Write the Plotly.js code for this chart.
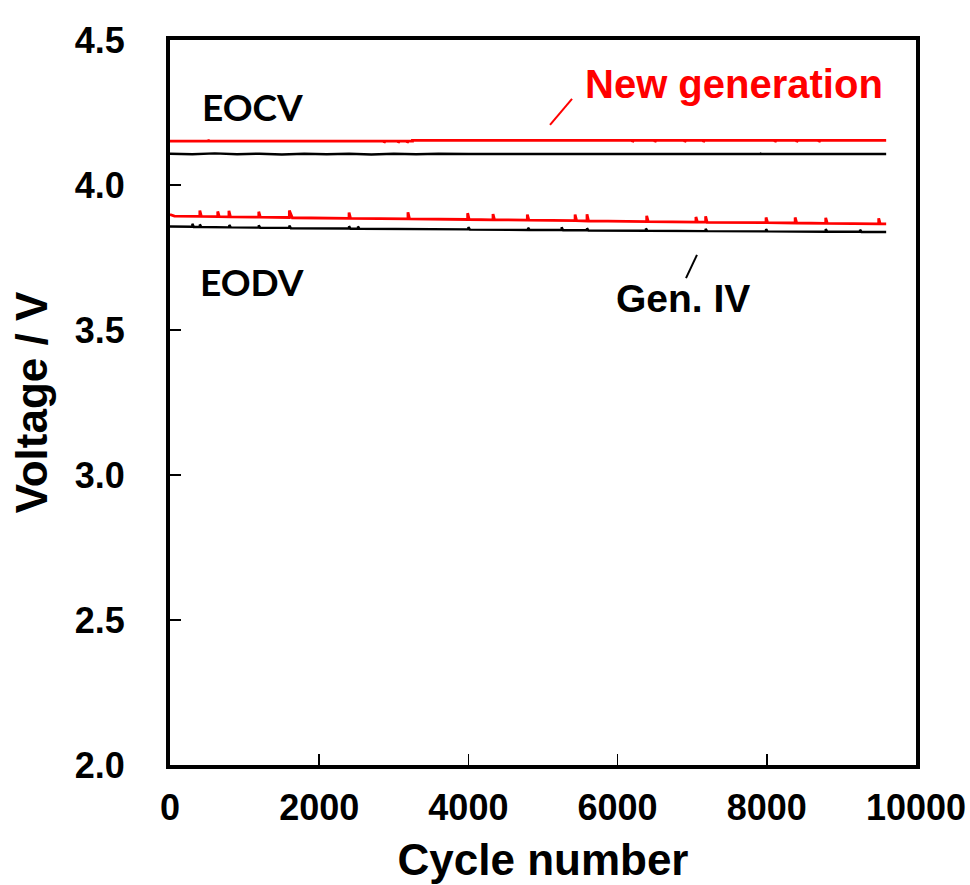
<!DOCTYPE html>
<html>
<head>
<meta charset="utf-8">
<script src="https://cdn.plot.ly/plotly-3.0.1.min.js"></script>
<style>html,body{margin:0;padding:0;background:#fff;}</style>
</head>
<body>
<div id="chart" style="width:970px;height:885px;"></div>
<script>
// ---- data ----
// New generation, end-of-charge voltage (EOCV)
const newEocvCycle = [0, 510, 510, 525, 2870, 2870, 2885, 3060, 3060, 3075, 3180, 3180, 3195, 3250, 3250, 6200, 6200, 6215, 6500, 6500, 6515, 6900, 6900, 6915, 7150, 7150, 7165, 8110, 8110, 8125, 8400, 8400, 8415, 8700, 8700, 8715, 9600];
const newEocvVolt  = [4.151, 4.151, 4.156, 4.151, 4.151, 4.146, 4.151, 4.151, 4.146, 4.151, 4.151, 4.146, 4.151, 4.151, 4.154, 4.154, 4.148, 4.154, 4.154, 4.148, 4.154, 4.154, 4.148, 4.154, 4.154, 4.148, 4.154, 4.154, 4.148, 4.154, 4.154, 4.148, 4.154, 4.154, 4.148, 4.154, 4.154];
// Gen. IV, end-of-charge voltage
const gen4EocvCycle = [0, 300, 600, 900, 1200, 1500, 1800, 2100, 2400, 2700, 3000, 3300, 3600, 4000, 7910, 7910, 7925, 9600];
const gen4EocvVolt  = [4.108, 4.106, 4.109, 4.106, 4.108, 4.105, 4.108, 4.106, 4.108, 4.105, 4.108, 4.106, 4.108, 4.107, 4.107, 4.110, 4.107, 4.107];
// New generation, end-of-discharge voltage (EODV)
const newEodvCycle = [0, 0, 60, 400, 400, 420, 640, 640, 660, 790, 790, 810, 1190, 1190, 1210, 1600, 1600, 1640, 2400, 2400, 2420, 3190, 3190, 3210, 3990, 3990, 4010, 4330, 4330, 4350, 4790, 4790, 4810, 5430, 5430, 5450, 5590, 5590, 5610, 6390, 6390, 6410, 7050, 7050, 7070, 7180, 7180, 7200, 7990, 7990, 8010, 8380, 8380, 8400, 8790, 8790, 8810, 9500, 9500, 9520, 9600];
const newEodvVolt  = [3.900, 3.898, 3.893, 3.892, 3.912, 3.892, 3.891, 3.909, 3.891, 3.890, 3.911, 3.890, 3.889, 3.908, 3.889, 3.888, 3.912, 3.887, 3.885, 3.905, 3.885, 3.883, 3.906, 3.883, 3.881, 3.903, 3.881, 3.880, 3.900, 3.880, 3.879, 3.898, 3.879, 3.877, 3.898, 3.877, 3.876, 3.899, 3.876, 3.874, 3.894, 3.874, 3.872, 3.890, 3.872, 3.872, 3.892, 3.871, 3.870, 3.888, 3.870, 3.869, 3.888, 3.869, 3.868, 3.887, 3.868, 3.866, 3.885, 3.866, 3.866];
// Gen. IV, end-of-discharge voltage
const gen4EodvCycle = [0, 300, 300, 320, 400, 400, 420, 795, 795, 815, 1190, 1190, 1210, 1600, 1600, 1620, 2400, 2400, 2420, 2520, 2520, 2540, 4000, 4000, 4020, 4800, 4800, 4820, 5250, 5250, 5270, 5590, 5590, 5610, 6380, 6380, 6400, 7180, 7180, 7200, 7990, 7990, 8010, 8790, 8790, 8810, 9250, 9250, 9270, 9600];
const gen4EodvVolt  = [3.857, 3.856, 3.866, 3.855, 3.855, 3.864, 3.855, 3.854, 3.862, 3.854, 3.853, 3.861, 3.852, 3.852, 3.860, 3.851, 3.850, 3.858, 3.849, 3.849, 3.857, 3.849, 3.847, 3.855, 3.846, 3.845, 3.853, 3.845, 3.845, 3.854, 3.844, 3.844, 3.851, 3.843, 3.842, 3.850, 3.842, 3.841, 3.849, 3.841, 3.840, 3.848, 3.840, 3.839, 3.848, 3.839, 3.839, 3.846, 3.838, 3.838];

const xTickVals = [0, 2000, 4000, 6000, 8000, 10000];
const yTickVals = [2.0, 2.5, 3.0, 3.5, 4.0, 4.5];

// label texts and their anchor points (data coords)
const labelTexts = ["EOCV", "EODV", "New generation", "Gen. IV"];
const labelX = [1100, 1100, 7560, 6880];
const labelY = [4.27, 3.668, 4.35, 3.607];
// leader lines [x0, y0, x1, y1]
const newLeader = [5094, 4.207, 5389, 4.297];
const gen4Leader = [6917, 3.679, 7064, 3.759];

const ARIAL = "Liberation Sans, Arial, sans-serif";
const traces = [
  {x: newEocvCycle, y: newEocvVolt, mode: "lines", line: {color: "#ff0000", width: 2.8}},
  {x: gen4EocvCycle, y: gen4EocvVolt, mode: "lines", line: {color: "#000000", width: 2.4}},
  {x: newEodvCycle, y: newEodvVolt, mode: "lines", line: {color: "#ff0000", width: 2.8}},
  {x: gen4EodvCycle, y: gen4EodvVolt, mode: "lines", line: {color: "#000000", width: 2.4}}
];

const labelFonts = [
  {family: "Lato, Open Sans, sans-serif", size: 37, color: "#000", weight: 700},
  {family: "Lato, Open Sans, sans-serif", size: 37, color: "#000", weight: 700},
  {family: ARIAL, size: 40, color: "#ff0000", weight: 700},
  {family: ARIAL, size: 39, color: "#000", weight: 700}
];

const layout = {
  width: 970, height: 885,
  margin: {l: 170, r: 54, t: 40, b: 120},
  paper_bgcolor: "#fff", plot_bgcolor: "#fff",
  showlegend: false,
  font: {family: ARIAL, color: "#000"},
  xaxis: {
    range: [0, 10000], tickvals: xTickVals, ticktext: xTickVals.map(String),
    showline: true, mirror: true, linewidth: 4, linecolor: "#000",
    ticks: "inside", ticklen: 11, tickwidth: 1.5, tickcolor: "#000",
    showgrid: false, zeroline: false,
    tickfont: {family: ARIAL, size: 36, color: "#000", weight: 700},
    ticklabelstandoff: 8,
    title: {text: "Cycle number", font: {family: ARIAL, size: 44, color: "#000", weight: 700}, standoff: 18}
  },
  yaxis: {
    range: [2, 4.5], tickvals: yTickVals, ticktext: yTickVals.map(v => v.toFixed(1)),
    showline: true, mirror: true, linewidth: 4, linecolor: "#000",
    ticks: "inside", ticklen: 11, tickwidth: 1.5, tickcolor: "#000",
    showgrid: false, zeroline: false,
    tickfont: {family: ARIAL, size: 36, color: "#000", weight: 700},
    ticklabelstandoff: 34,
    title: {text: "Voltage / V", font: {family: ARIAL, size: 44, color: "#000", weight: 700}, standoff: 14}
  },
  annotations: labelTexts.map((t, i) => ({
    text: t, x: labelX[i], y: labelY[i], xref: "x", yref: "y",
    showarrow: false, xanchor: "center", yanchor: "middle", font: labelFonts[i]
  })),
  shapes: [
    {type: "line", xref: "x", yref: "y", x0: newLeader[0], y0: newLeader[1], x1: newLeader[2], y1: newLeader[3], line: {color: "#ff0000", width: 2}},
    {type: "line", xref: "x", yref: "y", x0: gen4Leader[0], y0: gen4Leader[1], x1: gen4Leader[2], y1: gen4Leader[3], line: {color: "#000", width: 2}}
  ]
};

Plotly.newPlot("chart", traces, layout, {staticPlot: true, displayModeBar: false});
</script>
</body>
</html>
